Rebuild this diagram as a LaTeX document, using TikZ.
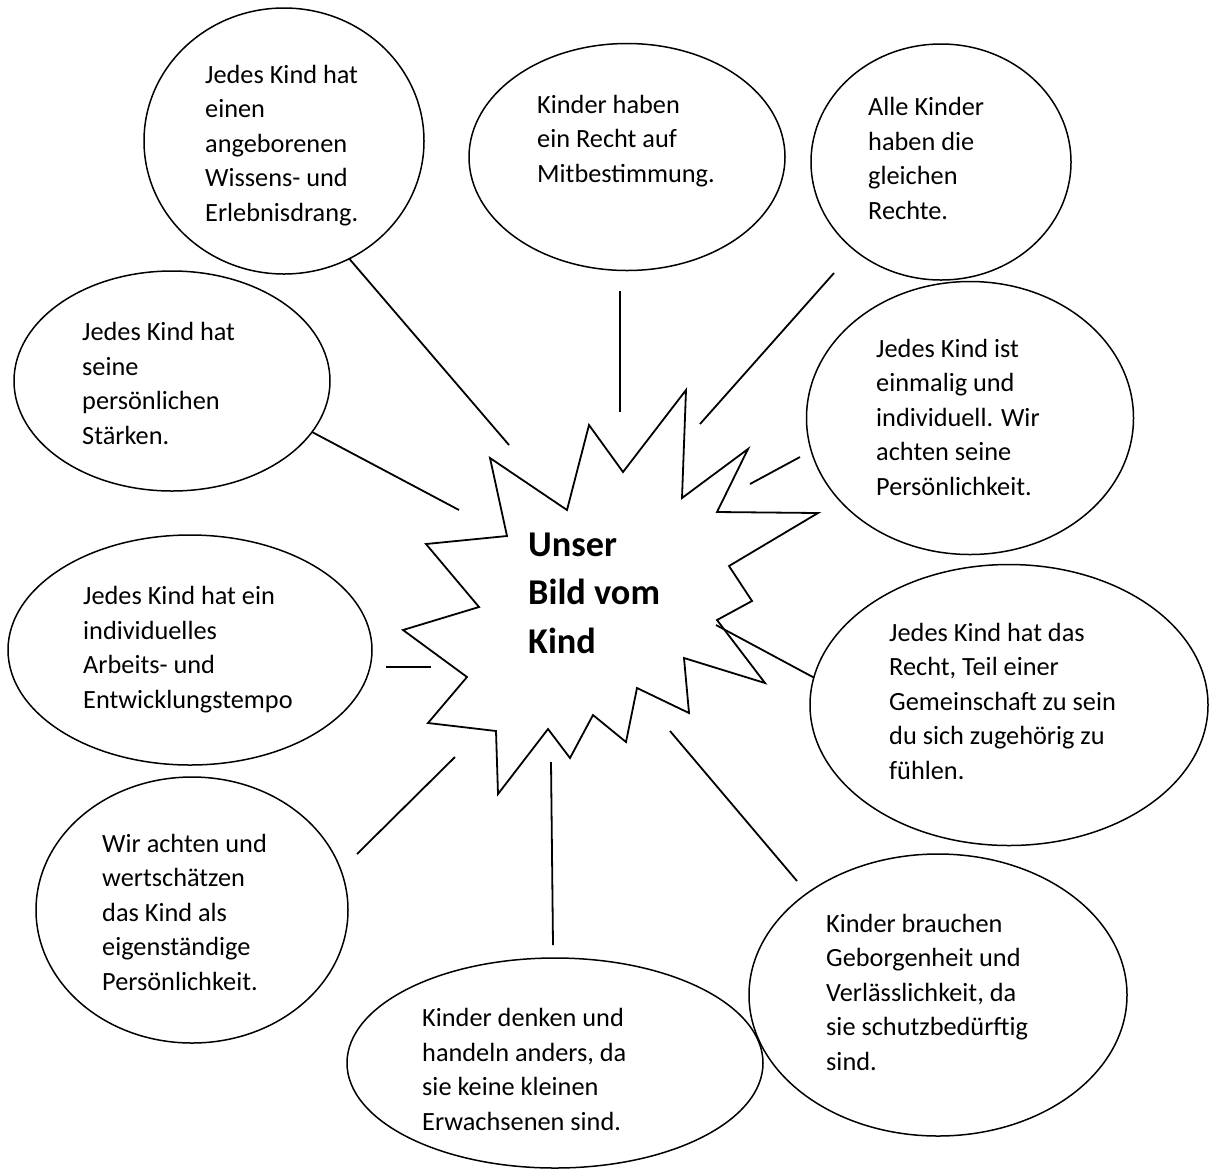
\documentclass[tikz,border=0pt]{standalone}
\usepackage{fontspec}
\setmainfont{Carlito}
\usetikzlibrary{shapes.geometric}
\begin{document}
\begin{tikzpicture}[x=1pt,y=-1pt,
    bubble/.style={ellipse, draw, line width=1.5pt, inner sep=0pt, outer sep=0pt},
    bubbletext/.style={anchor=base west, align=left, inner sep=0pt, font=\fontsize{26.3}{34.4}\selectfont},
    spoke/.style={line width=1.8pt}]
\useasboundingbox (0,0) rectangle (1209,1171);

% Draw the star in the middle
\draw[line width=1.8pt, line join=miter] (686,390) -- (682,498) -- (748,449) -- (717,512) -- (818,513)
    -- (729,566) -- (752,601) -- (717,620) -- (765,683) -- (684,658) -- (689,713)
    -- (637,688) -- (626,742) -- (593,715) -- (570,758) -- (548,729) -- (498,794)
    -- (496,731) -- (428,723) -- (467,677) -- (403,630) -- (479,607) -- (426,544)
    -- (507,536) -- (490,458) -- (567,510) -- (589,425) -- (623,472) -- cycle;
% base of a multi-line node is its last line
\node[anchor=base west, align=left, inner sep=0pt, font=\fontsize{36.3}{48.5}\selectfont\bfseries] (titel) at (528,653) {Unser\\Bild vom\\Kind};

% Define the bubbles round the star
\node[bubble, minimum width=280pt, minimum height=266pt] (wissen) at (284,141) {};
\node[bubbletext] (wissentext) at (205,221) {Jedes Kind hat\\einen\\angeborenen\\Wissens- und\\Erlebnisdrang.};

\node[bubble, minimum width=316pt, minimum height=227pt] (mitbest) at (627,157) {};
\node[bubbletext] (mitbesttext) at (537,182) {Kinder haben\\ein Recht auf\\Mitbestimmung.};

\node[bubble, minimum width=260pt, minimum height=236pt] (rechte) at (941,162) {};
\node[bubbletext] (rechtetext) at (868,219) {Alle Kinder\\haben die\\gleichen\\Rechte.};

\node[bubble, minimum width=316pt, minimum height=220pt] (staerken) at (172,381) {};
\node[bubbletext] (staerkentext) at (82,444) {Jedes Kind hat\\seine\\persönlichen\\Stärken.};

\node[bubble, minimum width=327pt, minimum height=273pt] (einmalig) at (970,418) {};
\node[bubbletext] (einmaligtext) at (876,495) {Jedes Kind ist\\einmalig und\\individuell. Wir\\achten seine\\Persönlichkeit.};

\node[bubble, minimum width=364pt, minimum height=230pt] (tempo) at (190,650) {};
\node[bubbletext] (tempotext) at (83,708) {Jedes Kind hat ein\\individuelles\\Arbeits- und\\Entwicklungstempo};

\node[bubble, minimum width=398pt, minimum height=281pt] (gemein) at (1009,705) {};
\node[bubbletext] (gemeintext) at (889,779) {Jedes Kind hat das\\Recht, Teil einer\\Gemeinschaft zu sein\\du sich zugehörig zu\\fühlen.};

\node[bubble, minimum width=312pt, minimum height=266pt] (achten) at (192,910) {};
\node[bubbletext] (achtentext) at (102,990) {Wir achten und\\wertschätzen\\das Kind als\\eigenständige\\Persönlichkeit.};

\node[bubble, minimum width=416pt, minimum height=210pt] (denken) at (555,1063) {};
\node[bubbletext] (denkentext) at (422,1130) {Kinder denken und\\handeln anders, da\\sie keine kleinen\\Erwachsenen sind.};

\node[bubble, minimum width=378pt, minimum height=282pt] (geborgen) at (938,995) {};
\node[bubbletext] (geborgentext) at (826,1070) {Kinder brauchen\\Geborgenheit und\\Verlässlichkeit, da\\sie schutzbedürftig\\sind.};

% Free ends of the spokes
\coordinate (s1) at (509,445);
\coordinate (s2) at (459,510);
\coordinate (s3a) at (620,291);
\coordinate (s3) at (620,412);
\coordinate (s4a) at (834,273);
\coordinate (s4) at (700,424);
\coordinate (s5a) at (800,457);
\coordinate (s5) at (750,484);
\coordinate (s6) at (716,625);
\coordinate (s7a) at (386,667);
\coordinate (s7) at (431,667);
\coordinate (s8a) at (357,854);
\coordinate (s8) at (455,757);
\coordinate (s9a) at (553,945);
\coordinate (s9) at (551,762);
\coordinate (s10a) at (797,881);
\coordinate (s10) at (670,731);

% Draw the spokes
\draw[spoke] (wissen.-61) -- (s1);
\draw[spoke] (staerken.-20) -- (s2);
\draw[spoke] (s3a) -- (s3);
\draw[spoke] (s4a) -- (s4);
\draw[spoke] (s5a) -- (s5);
\draw[spoke] (gemein.172) -- (s6);
\draw[spoke] (s7a) -- (s7);
\draw[spoke] (s8a) -- (s8);
\draw[spoke] (s9a) -- (s9);
\draw[spoke] (s10a) -- (s10);
\end{tikzpicture}
\end{document}
